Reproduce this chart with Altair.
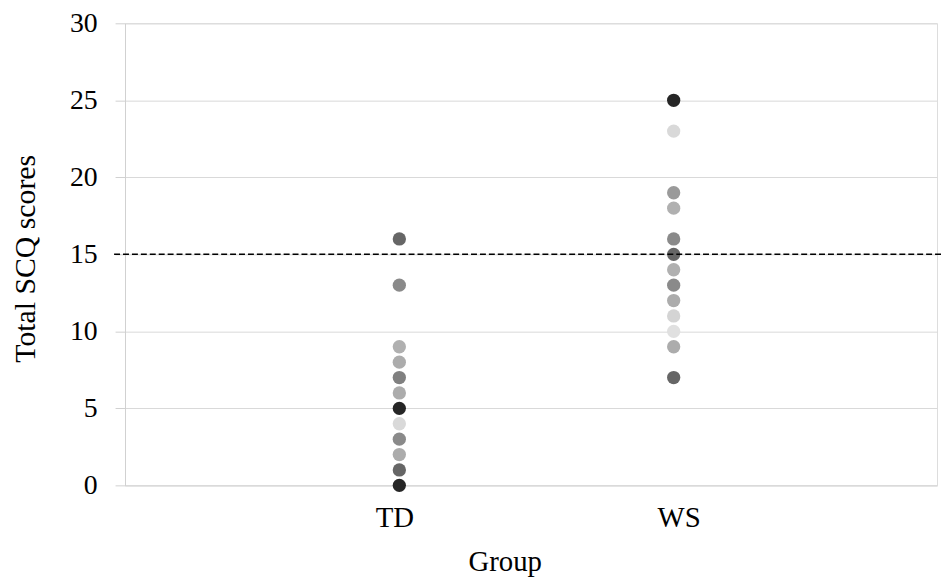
import altair as alt
import pandas as pd

groups = ["TD", "WS"]

td_scores = [16, 13, 9, 8, 7, 6, 5, 4, 3, 2, 1, 0]
td_shades = ["#666666", "#8a8a8a", "#b0b0b0", "#acacac", "#808080", "#acacac",
             "#262626", "#d9d9d9", "#8a8a8a", "#acacac", "#666666", "#262626"]

ws_scores = [25, 23, 19, 18, 16, 15, 14, 13, 12, 11, 10, 9, 7]
ws_shades = ["#262626", "#d9d9d9", "#9a9a9a", "#b0b0b0", "#8a8a8a", "#666666",
             "#b0b0b0", "#8a8a8a", "#acacac", "#d4d4d4", "#e0e0e0", "#acacac", "#666666"]

cutoff = 15

rows = []
for s, c in zip(td_scores, td_shades):
    rows.append({"group": groups[0], "gi": 1, "score": s, "shade": c})
for s, c in zip(ws_scores, ws_shades):
    rows.append({"group": groups[1], "gi": 2, "score": s, "shade": c})
df = pd.DataFrame(rows)

W, H = 819, 466
font = "Liberation Serif"

points = alt.Chart(df).mark_circle(size=180, opacity=1).encode(
    x=alt.X("gi:Q",
            scale=alt.Scale(domain=[0, 2.96], nice=False, zero=False),
            axis=alt.Axis(values=[1, 2],
                          labelExpr=f"datum.value == 1 ? '{groups[0]}' : '{groups[1]}'",
                          ticks=False, grid=False, domain=True, domainColor="#d9d9d9",
                          labelFont=font, labelFontSize=29, labelColor="#000000",
                          labelPadding=33, labelBaseline="middle",
                          labelOffset={"condition": {"test": "datum.value == 1", "value": -5}, "value": 5},
                          title="Group", titleFont=font, titleFontSize=29,
                          titleFontWeight="normal", titleColor="#000000",
                          titleX=383, titleY=77, titleBaseline="middle", titleAlign="center")),
    y=alt.Y("score:Q",
            scale=alt.Scale(domain=[0, 30], nice=False),
            axis=alt.Axis(values=[0, 5, 10, 15, 20, 25, 30],
                          tickSize=10, tickColor="#d0d0d0", domainColor="#d0d0d0",
                          gridColor="#d9d9d9",
                          labelFont=font, labelFontSize=28, labelColor="#000000",
                          labelPadding=18,
                          title="Total SCQ scores", titleFont=font, titleFontSize=30,
                          titleFontWeight="normal", titleColor="#000000",
                          titleX=-100, titleY=237, titleBaseline="middle",
                          titleAlign="center", titleAngle=270)),
    color=alt.Color("shade:N", scale=None),
)

rule_df = pd.DataFrame({"cut": [cutoff]})
rule = alt.Chart(rule_df).mark_rule(color="#000000", strokeWidth=1.5, strokeDash=[6, 3]).encode(
    y="cut:Q",
    x=alt.value(-11),
    x2=alt.value(W + 4),
)

chart = alt.layer(points, rule).properties(
    width=W, height=H,
    autosize=alt.AutoSizeParams(type="none"),
    padding={"left": 118, "top": 13, "right": 4, "bottom": 91},
).configure_view(stroke=None).configure(background="#ffffff")

chart.save("out.html", embed_options={"renderer": "svg", "actions": False})
